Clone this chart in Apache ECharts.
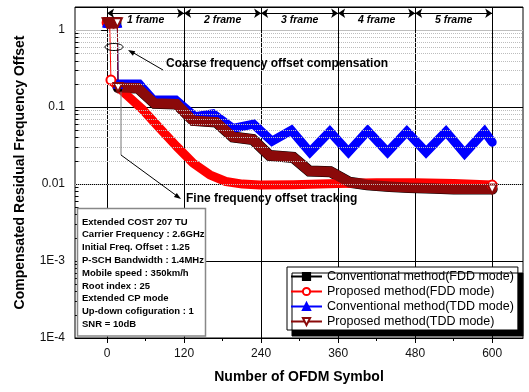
<!DOCTYPE html>
<html><head><meta charset="utf-8">
<script src="https://cdn.jsdelivr.net/npm/echarts@6/dist/echarts.min.js"></script>
<style>html,body{margin:0;padding:0;background:#fff}#c{width:529px;height:392px}</style>
</head><body><div id="c"></div>
<script>
const FONT = '"Liberation Sans", Arial, Helvetica, sans-serif';

// ---- axes ----
const xMin = -50, xMax = 648;
const yMin = 1e-4, yMax = 2;
const xMajorTicks = [0, 120, 240, 360, 480, 600];
const xMinorTicks = [60, 180, 300, 420, 540];
const yDecades = [1e-4, 1e-3, 1e-2, 1e-1];
const yMinorMultipliers = [2, 3, 4, 5, 6, 7, 8, 9];
const yLabelText = { '-4': '1E-4', '-3': '1E-3', '-2': '0.01', '-1': '0.1', '0': '1' };

// ---- frame markers along the top ----
const frameEdges = [0, 120, 240, 360, 480, 600];
const frameLabels = ['1 frame', '2 frame', '3 frame', '4 frame', '5 frame'];
const frameLevel = 1.66;

// ---- series names ----
const names = [
  'Conventional method(FDD mode)',
  'Proposed method(FDD mode)',
  'Conventional method(TDD mode)',
  'Proposed method(TDD mode)'
];

// ---- acquisition stage: initial offset 1.25, then coarse compensation ----
const convFddHeadX = [0, 2, 4, 6, 8, 10, 12, 14, 16, 17];
const convFddHeadV = [1.25, 1.25, 1.25, 1.25, 1.25, 1.25, 1.25, 1.25, 1.25, 0.18];
const propFddHeadX = [0, 1, 2, 3, 4, 5, 6, 6];
const propFddHeadV = [1.25, 1.25, 1.25, 1.25, 1.25, 1.25, 1.25, 0.225];
const convTddHeadX = [0, 2, 4, 6, 8, 10, 12, 14, 16, 17];
const convTddHeadV = [1.25, 1.25, 1.25, 1.25, 1.25, 1.25, 1.25, 1.25, 1.25, 0.2];
const propTddHeadX = [0, 2, 4, 6, 8, 10, 12, 14, 16, 17];
const propTddHeadV = [1.25, 1.25, 1.25, 1.25, 1.25, 1.25, 1.25, 1.25, 1.25, 0.18];

// ---- tracking stage ----
const convFddX = [17, 48, 74, 108, 134, 170, 196, 227, 253, 290, 315, 348, 377, 405, 440, 470, 510, 540, 570, 600];
const convFddV = [0.18, 0.177, 0.112, 0.11, 0.067, 0.064, 0.041, 0.038, 0.0235, 0.0222, 0.0148, 0.0145, 0.0106, 0.0098, 0.0093, 0.009, 0.0088, 0.0086, 0.0086, 0.0086];

const propFddX = [6, 30, 56, 82, 108, 134, 160, 185, 211, 238, 290, 360, 420, 480, 540, 600];
const propFddV = [0.225, 0.145, 0.092, 0.053, 0.031, 0.0187, 0.0132, 0.0108, 0.01, 0.0097, 0.0098, 0.0102, 0.0104, 0.0104, 0.0102, 0.0097];

const convTddX = [17, 50, 72, 107, 137, 165, 196, 228, 257, 287, 316, 347, 376, 406, 437, 467, 497, 528, 557, 588, 600];
const convTddV = [0.2, 0.2, 0.124, 0.124, 0.075, 0.082, 0.053, 0.06, 0.036, 0.05, 0.026, 0.048, 0.026, 0.049, 0.026, 0.048, 0.026, 0.048, 0.025, 0.048, 0.035];

const propTddX = [17, 48, 74, 108, 134, 170, 196, 227, 253, 290, 315, 348, 377, 405, 440, 470, 510, 540, 570, 600];
const propTddV = [0.18, 0.177, 0.112, 0.11, 0.067, 0.064, 0.041, 0.038, 0.0235, 0.0222, 0.0148, 0.0145, 0.0106, 0.0098, 0.0093, 0.009, 0.0088, 0.0086, 0.0086, 0.0086];

// ---- simulation conditions ----
const conditionLines = [
  'Extended COST 207 TU',
  'Carrier Frequency : 2.6GHz',
  'Initial Freq. Offset : 1.25',
  'P-SCH Bandwidth : 1.4MHz',
  'Mobile speed : 350km/h',
  'Root index : 25',
  'Extended CP mode',
  'Up-down cofiguration : 1',
  'SNR = 10dB'
];

const colors = ['#000000', '#ff0000', '#0000ff', '#8b0a0a'];
const symbols = ['rect', 'emptyCircle', 'triangle', 'emptyTriangle'];
const rotations = [0, 0, 0, 180];
const headSymbolSizes = [7, 9, 9, 9];
const bandWidths = [11, 9, 9, 10];

function pairs(xs, vs) { return xs.map((x, i) => [x, vs[i]]); }

const heads = [
  pairs(convFddHeadX, convFddHeadV),
  pairs(propFddHeadX, propFddHeadV),
  pairs(convTddHeadX, convTddHeadV),
  pairs(propTddHeadX, propTddHeadV)
];
const bands = [
  pairs(convFddX, convFddV),
  pairs(propFddX, propFddV),
  pairs(convTddX, convTddV),
  pairs(propTddX, propTddV)
];

const series = [];
// acquisition segments: thin lines with markers (these also feed the legend icons)
heads.forEach((d, i) => {
  series.push({
    name: names[i], type: 'line', data: d, z: 3,
    symbol: symbols[i], symbolRotate: rotations[i], symbolSize: headSymbolSizes[i],
    showSymbol: true,
    lineStyle: { color: colors[i], width: 1 },
    itemStyle: { color: colors[i], borderColor: colors[i], borderWidth: 1 }
  });
});
// tracking segments: wide bands, marker only at the last symbol
bands.forEach((d, i) => {
  const data = d.map((p, k) => {
    if (k === d.length - 1 && (i === 1 || i === 3)) {
      return { value: p, symbol: symbols[i], symbolRotate: rotations[i], symbolSize: 9 };
    }
    return p;
  });
  series.push({
    name: names[i], type: 'line', data: data, z: 2,
    symbol: 'none', showSymbol: true,
    lineStyle: { color: colors[i], width: bandWidths[i], join: i === 1 ? 'round' : 'miter', cap: 'round' },
    itemStyle: { color: colors[i], borderColor: colors[i], borderWidth: 1.2 }
  });
});

// minor grid lines and minor ticks on the log axis
const minorValues = [];
yDecades.forEach(d => yMinorMultipliers.forEach(m => minorValues.push(+(d * m).toPrecision(3))));
const minorGrid = minorValues.map(v => ({ yAxis: v }));
const minorTicks = minorValues.map(v => [{ coord: [xMin, v] }, { coord: [xMin + 5.5, v] }]);
series.push({
  type: 'line', data: [], silent: true, z: 1,
  markLine: {
    silent: true, symbol: 'none', animation: false,
    label: { show: false },
    lineStyle: { color: '#bdbdbd', type: [1, 1], width: 1 },
    data: minorGrid
  }
});
series.push({
  type: 'line', data: [], silent: true, z: 1,
  markLine: {
    silent: true, symbol: 'none', animation: false,
    label: { show: false },
    lineStyle: { color: '#000', type: 'solid', width: 1 },
    data: minorTicks
  }
});
// frame spans
series.push({
  type: 'line', data: [], silent: true, z: 3,
  markLine: {
    silent: true, animation: false,
    symbol: ['arrow', 'arrow'], symbolSize: 7,
    lineStyle: { color: '#000', type: 'solid', width: 1 },
    label: {
      show: true, position: 'insideMiddleBottom', distance: 1,
      formatter: p => p.name,
      fontFamily: FONT, fontSize: 10.5, fontStyle: 'italic', fontWeight: 'bold', color: '#000'
    },
    data: frameLabels.map((lab, i) => [
      { coord: [frameEdges[i], frameLevel], name: lab },
      { coord: [frameEdges[i + 1], frameLevel] }
    ])
  }
});

const chart = echarts.init(document.getElementById('c'), null, { renderer: 'canvas' });
chart.setOption({
  animation: false,
  textStyle: { fontFamily: FONT },
  grid: { left: 75, right: 6, top: 7, bottom: 54, show: true, borderColor: '#000', borderWidth: 1 },
  legend: {
    data: names, orient: 'vertical', left: 287, top: 267,
    itemWidth: 31, itemHeight: 9, itemGap: 0,
    padding: [2, 4, 1, 3],
    backgroundColor: '#fff', borderColor: '#000', borderWidth: 1,
    shadowColor: '#000', shadowOffsetX: 5, shadowOffsetY: 6, shadowBlur: 0,
    selectedMode: false,
    textStyle: { fontFamily: FONT, fontSize: 12.5, color: '#000', lineHeight: 15 }
  },
  xAxis: [{
    type: 'value', min: xMin, max: xMax, position: 'bottom',
    name: 'Number of OFDM Symbol', nameLocation: 'middle', nameGap: 32,
    nameTextStyle: { fontFamily: FONT, fontSize: 14, fontWeight: 'bold', color: '#000' },
    axisLine: { show: true, lineStyle: { color: '#000', width: 1 } },
    axisTick: { show: true, length: 5, customValues: xMajorTicks, lineStyle: { color: '#000' } },
    axisLabel: { customValues: xMajorTicks, margin: 10, fontSize: 12, color: '#111', fontFamily: FONT },
    splitLine: { show: true, lineStyle: { color: '#000', width: 1 } }
  }, {
    type: 'value', min: xMin, max: xMax, position: 'bottom',
    axisLine: { show: false },
    axisTick: { show: true, length: 3, customValues: xMinorTicks, lineStyle: { color: '#000' } },
    axisLabel: { show: false },
    splitLine: { show: false }
  }],
  yAxis: {
    type: 'log', min: yMin, max: yMax, logBase: 10,
    name: 'Compensated Residual Frequency Offset', nameLocation: 'middle', nameGap: 48,
    nameTextStyle: { fontFamily: FONT, fontSize: 14, fontWeight: 'bold', color: '#000' },
    axisLine: { show: true, lineStyle: { color: '#000', width: 1 } },
    axisTick: { show: true, length: 6, lineStyle: { color: '#000' } },
    axisLabel: {
      margin: 10, fontSize: 12, color: '#111', fontFamily: FONT, showMaxLabel: false,
      formatter: v => { const e = Math.round(Math.log10(v)); return yLabelText[String(e)] || ''; }
    },
    splitLine: { show: true, lineStyle: { color: ['#000', '#000', '#000', '#000', '#bdbdbd', '#000'], width: 1 } }
  },
  graphic: [
    { type: 'text', left: 166, top: 58, z: 50,
      style: { text: 'Coarse frequency offset compensation', font: 'bold 12px ' + FONT, fill: '#000' } },
    { type: 'polyline', z: 50, shape: { points: [[163, 70], [132, 52]] }, style: { stroke: '#000', lineWidth: 1, fill: null } },
    { type: 'polygon', z: 50, shape: { points: [[128, 50], [135.3, 51.3], [132.9, 55.7]] }, style: { fill: '#000' } },
    { type: 'ellipse', z: 50, shape: { cx: 114, cy: 47, rx: 9, ry: 3.5 }, style: { stroke: '#000', lineWidth: 1, fill: null } },
    { type: 'text', left: 186, top: 193, z: 50,
      style: { text: 'Fine frequency offset tracking', font: 'bold 12px ' + FONT, fill: '#000' } },
    { type: 'polyline', z: 50, shape: { points: [[121, 92], [121, 155]] }, style: { stroke: '#777', lineWidth: 1, fill: null } },
    { type: 'polyline', z: 50, shape: { points: [[121, 155], [177, 196]] }, style: { stroke: '#000', lineWidth: 1, fill: null } },
    { type: 'polygon', z: 50, shape: { points: [[181, 199], [173.9, 196.9], [176.8, 192.9]] }, style: { fill: '#000' } },
    { type: 'rect', z: 50, shape: { x: 77.5, y: 208.5, width: 128, height: 127.5 },
      style: { fill: '#fff', stroke: '#888', lineWidth: 1.5 } },
    { type: 'text', left: 82, top: 215.5, z: 51,
      style: { text: conditionLines.join('\n'), font: 'bold 9.5px ' + FONT, fill: '#000', lineHeight: 12.8 } }
  ],
  series: series
});
</script></body></html>
